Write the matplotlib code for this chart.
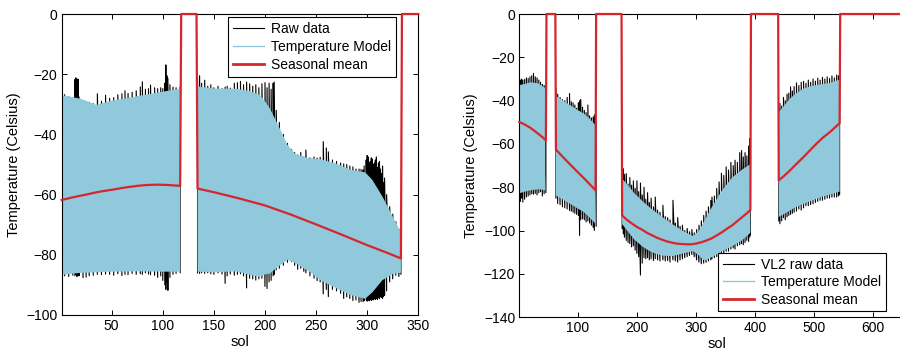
import numpy as np
import matplotlib
matplotlib.use("Agg")
import matplotlib.pyplot as plt
from matplotlib.lines import Line2D

plt.rcParams["font.family"] = ["Liberation Sans", "DejaVu Sans"]
plt.rcParams["font.size"] = 10

nan = np.nan

# ---------------- Viking Lander 1 ----------------
vl1_model_sol = [1, 10, 20, 35, 50, 75, 100, 117, nan,
                 134, 150, 171, 185, 195, 200, 205, 213, 222, 230, 243, 255,
                 269, 284, 298, 305, 315, 325, 333]
vl1_model_hi = [-27.0, -27.5, -28.2, -30.2, -28.8, -27.3, -25.8, -24.8, nan,
                -24.0, -24.8, -24.8, -25.6, -26.9, -29.0, -31.5, -37.0, -43.5,
                -46.6, -47.9, -48.3, -49.6, -51.8, -52.6, -55.1, -60.7, -67.3, -72.6]
vl1_model_lo = [-86.7, -86.3, -86.0, -85.8, -85.6, -85.5, -85.6, -85.6, nan,
                -85.6, -85.8, -85.5, -86.6, -87.3, -86.5, -86.2, -83.9, -81.7,
                -82.8, -85.5, -88.6, -91.0, -93.4, -94.6, -92.5, -88.4, -86.4, -85.9]

vl1_mean_sol = [1, 12, 25, 37, 50, 62, 75, 85, 95, 105, 117, 118, 133,
                134, 150, 175, 200, 225, 250, 275, 300, 320, 333, 334, 350]
vl1_mean = [-61.8, -60.9, -60.0, -59.1, -58.4, -57.7, -57.1, -56.8, -56.7,
            -56.8, -57.1, 0, 0,
            -58.0, -59.2, -61.3, -63.6, -66.6, -69.9, -73.3, -76.8, -79.4,
            -81.2, 0, 0]

vl1_raw_sol = [1, 4, 8, 12, 14, 15, 16, 17, 18, 22, 25, 28, 32, 36, 40, 44, 48,
               52, 56, 60, 63, 66, 70, 74, 78, 80, 83, 86, 88, 92, 95, 98, 100,
               102, 103, 104, 105, 107, 110, 113, 117, nan,
               134, 136, 138, 141, 144, 147, 150, 154, 158, 161, 163, 166, 170,
               173, 176, 179, 182, 185, 188, 191, 194, 197, 200, 202, 204, 206,
               208, 209, 211, 214, 218, 222, 226, 229, 232, 235, 238, 240, 244,
               248, 251, 254, 257, 260, 262, 266, 270, 274, 277, 280, 283, 286,
               289, 292, 294, 296, 297, 299, 300, 301, 302, 303, 304, 305, 306,
               307, 308, 309, 310, 311, 312, 313, 314, 315, 316, 317, 319, 322,
               325, 328, 331, 333]
vl1_raw_lo = [-87.5, -87.0, -87.2, -86.8, -87.0, -86.5, -87.2, -86.9, -87.0,
              -87.6, -87.4, -87.0, -86.8, -86.5, -86.6, -86.4, -86.5, -86.8,
              -86.3, -86.9, -86.5, -86.6, -86.2, -86.5, -86.3, -86.5, -86.0,
              -86.4, -86.6, -86.8, -87.5, -87.0, -88.5, -90.0, -91.5, -89.0,
              -91.8, -87.5, -86.5, -86.2, -86.0, nan,
              -86.0, -86.2, -86.0, -86.2, -86.0, -86.3, -86.5, -86.0, -86.4,
              -89.5, -87.0, -86.4, -86.8, -86.5, -86.3, -87.0, -91.0, -87.8,
              -88.0, -88.4, -88.0, -87.8, -90.5, -91.2, -89.0, -88.5, -87.0,
              -86.5, -85.0, -84.5, -83.5, -82.5, -82.3, -83.5, -84.8, -84.5,
              -85.5, -86.0, -87.0, -87.8, -88.6, -89.0, -93.0, -91.5, -93.9,
              -91.5, -92.0, -92.8, -94.5, -94.0, -94.5, -95.2, -95.0, -95.8,
              -95.5, -95.6, -95.2, -95.0, -95.4, -95.0, -95.3, -94.8, -95.2,
              -94.9, -95.0, -94.6, -94.8, -94.5, -94.8, -94.3, -94.6, -94.0,
              -94.2, -94.5, -93.8, -93.5, -92.0, -89.0, -88.0, -86.8, -87.2,
              -86.5, -86.0]
vl1_raw_hi = [-27.0, -26.8, -27.5, -27.8, -21.8, -21.2, -22.0, -21.6, -27.5,
              -28.8, -29.0, -29.3, -29.8, -26.5, -29.0, -27.0, -28.0, -27.8,
              -26.8, -26.5, -25.5, -26.4, -26.0, -25.5, -24.2, -22.5, -25.0,
              -24.8, -23.6, -24.5, -24.8, -24.5, -24.8, -23.0, -16.9, -20.5,
              -21.4, -23.5, -24.3, -24.5, -24.3, nan,
              -21.0, -20.5, -23.0, -22.0, -24.0, -23.5, -24.5, -24.0, -24.8,
              -24.3, -24.0, -24.6, -23.0, -22.8, -22.4, -23.5, -22.6, -23.2,
              -24.0, -23.5, -24.5, -23.2, -22.8, -24.5, -23.0, -25.0, -23.0,
              -22.6, -32.0, -36.0, -40.0, -43.0, -45.0, -46.0, -46.8, -46.0,
              -47.5, -45.2, -47.8, -47.5, -47.9, -47.6, -42.4, -44.5, -45.8,
              -48.5, -49.0, -49.5, -49.8, -50.0, -50.5, -50.8, -51.5, -51.5,
              -51.6, -51.8, -50.5, -48.5, -47.0, -47.5, -49.5, -49.0, -47.8,
              -48.2, -50.0, -49.5, -48.5, -47.5, -51.0, -49.5, -49.0, -51.5,
              -53.0, -50.5, -56.0, -54.5, -60.0, -64.0, -66.5, -69.0, -71.5,
              -72.0]

# ---------------- Viking Lander 2 ----------------
vl2_model_sol = [1, 10, 20, 33, 45, nan,
                 63, 75, 87, 98, 110, 120, 130, nan,
                 175, 185, 195, 210, 225, 242, 260, 277, 295, 305, 312, 318,
                 327, 344, 361, 378, 392, nan,
                 440, 450, 459, 470, 482, 493, 504, 515, 527, 543]
vl2_model_hi = [-32.8, -32.3, -31.5, -32.0, -34.3, nan,
                -37.9, -40.0, -42.1, -44.0, -45.9, -48.3, -51.3, nan,
                -76.0, -79.0, -82.5, -86.5, -90.0, -93.5, -97.0, -100.0, -102.5,
                -100.0, -96.5, -93.5, -89.0, -81.4, -75.5, -71.8, -69.3, nan,
                -45.2, -42.0, -39.0, -36.5, -34.4, -33.4, -32.8, -32.3, -31.8, -30.3]
vl2_model_lo = [-82.8, -82.0, -81.4, -80.9, -81.3, nan,
                -83.7, -85.7, -87.6, -89.5, -91.4, -94.0, -96.8, nan,
                -97.0, -100.5, -104.0, -107.5, -110.0, -111.5, -111.8, -110.6,
                -109.5, -111.5, -113.5, -113.5, -112.2, -109.5, -107.2, -104.5,
                -101.0, nan,
                -93.7, -92.2, -90.7, -89.0, -87.6, -86.4, -85.3, -84.2, -83.3, -82.0]

vl2_mean_sol = [1, 10, 19, 26, 33, 40, 46, 47, 62,
                63, 80, 97, 114, 130, 131, 174,
                175, 183, 192, 200, 209, 217, 226, 234, 243, 251, 260, 268, 277,
                285, 293, 301, 310, 318, 327, 335, 344, 352, 361, 369, 378, 385,
                392, 393, 439,
                440, 450, 459, 470, 482, 493, 504, 515, 527, 535, 543, 544, 669]
vl2_mean = [-49.8, -51.0, -52.4, -53.8, -55.3, -56.8, -58.3, 0, 0,
            -62.6, -67.5, -72.2, -76.8, -81.4, 0, 0,
            -93.0, -95.0, -96.8, -98.3, -99.6, -101.0, -102.2, -103.3, -104.2,
            -105.0, -105.6, -106.0, -106.2, -106.3, -106.3, -105.9, -105.3,
            -104.5, -103.5, -102.2, -100.7, -99.2, -97.6, -95.8, -93.8, -92.2,
            -90.5, 0, 0,
            -76.8, -74.5, -72.2, -69.2, -66.0, -62.9, -59.8, -57.0, -54.4,
            -52.4, -50.4, 0, 0]

vl2_raw_sol = [1, 3, 5, 7, 10, 13, 16, 19, 22, 25, 28, 31, 34, 37, 40, 43, 46, nan,
               63, 66, 70, 74, 78, 82, 86, 89, 92, 95, 98, 101, 103, 105, 108,
               111, 114, 117, 120, 123, 126, 128, 131, nan,
               175, 177, 179, 182, 185, 188, 191, 194, 197, 200, 203, 206, 209,
               212, 215, 218, 221, 224, 228, 231, 235, 239, 244, 248, 252, 256,
               261, 265, 269, 273, 277, 281, 285, 289, 293, 297, 301, 305, 309,
               313, 317, 321, 325, 327, 331, 335, 339, 343, 347, 351, 355, 359,
               363, 366, 370, 374, 377, 380, 383, 386, 389, 391, 392, nan,
               440, 442, 445, 448, 451, 454, 457, 460, 463, 466, 470, 474, 478,
               482, 486, 490, 494, 498, 502, 506, 510, 514, 518, 522, 526, 530,
               534, 538, 541, 543]
vl2_raw_lo = [-84.0, -86.5, -85.0, -86.8, -85.5, -84.5, -84.0, -83.5, -83.0,
              -83.2, -82.8, -83.5, -82.5, -82.0, -84.0, -83.0, -82.5, nan,
              -85.0, -87.5, -88.0, -89.0, -89.5, -90.0, -90.7, -91.0, -91.5,
              -92.0, -92.5, -93.0, -102.2, -95.0, -94.5, -95.0, -96.0, -95.5,
              -96.5, -97.5, -98.5, -99.9, -98.0, nan,
              -99.0, -101.5, -103.0, -104.5, -105.5, -106.0, -107.5, -107.0,
              -109.0, -110.5, -112.0, -120.5, -115.0, -112.5, -113.0, -112.5,
              -113.5, -113.0, -113.8, -113.0, -113.5, -114.0, -113.5, -114.0,
              -113.8, -114.5, -113.5, -114.0, -114.5, -113.5, -113.0, -112.5,
              -112.0, -111.5, -111.0, -112.0, -113.5, -114.5, -115.3, -115.0,
              -114.6, -114.0, -113.5, -113.0, -112.5, -112.0, -111.5, -111.0,
              -110.5, -109.5, -109.5, -108.5, -108.0, -108.5, -107.0, -106.5,
              -106.0, -106.5, -105.5, -104.5, -105.0, -103.0, -102.0, nan,
              -95.5, -96.8, -95.5, -94.0, -95.0, -93.7, -93.0, -92.5, -92.0,
              -91.5, -91.0, -90.0, -90.5, -89.5, -88.5, -88.5, -88.0, -87.6,
              -87.0, -86.5, -86.0, -86.0, -85.5, -85.0, -85.0, -84.5, -84.5,
              -84.5, -84.0, -83.5]
vl2_raw_hi = [-31.0, -30.5, -30.0, -30.5, -30.2, -29.5, -29.8, -29.0, -28.5,
              -27.4, -29.0, -29.5, -30.5, -31.5, -32.5, -33.0, -34.0, nan,
              -34.4, -37.0, -38.5, -39.5, -40.0, -38.5, -36.7, -40.5, -41.0,
              -42.0, -43.5, -41.0, -40.0, -39.4, -43.0, -44.5, -45.5, -42.0,
              -47.0, -48.0, -47.5, -46.5, -50.0, nan,
              -72.0, -71.4, -74.0, -73.7, -78.5, -75.5, -79.0, -77.0, -80.5,
              -77.0, -82.0, -78.0, -83.5, -80.0, -85.5, -82.5, -87.0, -85.0,
              -89.0, -84.5, -90.5, -91.5, -88.3, -93.5, -94.0, -95.0, -86.0,
              -96.5, -94.0, -98.0, -97.5, -100.0, -99.0, -100.5, -99.5, -101.0,
              -99.5, -97.5, -95.5, -93.0, -91.0, -89.0, -86.0, -84.5, -84.0,
              -80.5, -77.5, -73.5, -74.5, -70.6, -72.0, -68.5, -70.0, -67.5,
              -68.5, -64.0, -63.0, -66.0, -64.0, -65.5, -61.0, -57.5, -67.0, nan,
              -44.0, -41.3, -42.5, -38.5, -40.0, -37.0, -36.5, -33.6, -35.5,
              -33.5, -31.8, -33.0, -31.5, -31.1, -32.0, -30.5, -31.5, -30.0,
              -31.0, -29.6, -30.5, -29.2, -30.0, -29.0, -29.8, -28.6, -29.5,
              -28.2, -28.5, -29.0]

MODEL_C = "#8fc9db"
MEAN_C = "#d6262d"


def daily_trace(sol, lo, hi):
    """Each sol's record swings from its minimum up to its maximum."""
    xs, ys = [], []
    for s, a, b in zip(sol, lo, hi):
        xs += [s, s]
        ys += [a, b]
    return np.array(xs, float), np.array(ys, float)


def draw_panel(ax, raw, model, mean, raw_label):
    rx, ry = daily_trace(*raw)
    ax.plot(rx, ry, color="black", lw=0.8, zorder=1)
    ms, mlo, mhi = (np.array(v, float) for v in model)
    ax.fill_between(ms, mlo, mhi, color=MODEL_C, lw=0, zorder=2)
    ax.plot(mean[0], mean[1], color=MEAN_C, lw=1.6, zorder=4, clip_on=False)
    handles = [Line2D([], [], color="black", lw=0.8),
               Line2D([], [], color=MODEL_C, lw=1.0),
               Line2D([], [], color=MEAN_C, lw=2.0)]
    labels = [raw_label, "Temperature Model", "Seasonal mean"]
    return handles, labels


def style_axes(ax):
    for sp in ax.spines.values():
        sp.set_linewidth(0.8)
    ax.tick_params(direction="in", length=3.5, width=0.7, top=True, right=True,
                   labelsize=10, pad=3)
    ax.set_xlabel("sol", fontsize=10.5, labelpad=1)
    ax.set_ylabel("Temperature (Celsius)", fontsize=10.5, labelpad=4)


fig = plt.figure(figsize=(9.0, 3.55), dpi=100)

ax1 = fig.add_axes([61.6 / 900, 1 - 315 / 355, 356.7 / 900, 301 / 355])
h, l = draw_panel(ax1, (vl1_raw_sol, vl1_raw_lo, vl1_raw_hi),
                  (vl1_model_sol, vl1_model_lo, vl1_model_hi),
                  (vl1_mean_sol, vl1_mean), "Raw data")
ax1.set_xlim(1, 350)
ax1.set_ylim(-100, 0)
ax1.set_xticks([50, 100, 150, 200, 250, 300, 350])
ax1.set_yticks([0, -20, -40, -60, -80, -100])
style_axes(ax1)
leg1 = ax1.legend(h, l, loc="upper left", bbox_to_anchor=(228.3 / 900, 1 - 16.7 / 355),
                  bbox_transform=fig.transFigure, borderaxespad=0, fancybox=False,
                  framealpha=1, edgecolor="black", handlelength=2.2, handletextpad=0.5,
                  labelspacing=0.3, borderpad=0.35, fontsize=10)
leg1.get_frame().set_linewidth(0.8)
leg1.set_zorder(5)

ax2 = fig.add_axes([519.3 / 900, 1 - 317.3 / 355, 0.591 * 668 / 900, 303.3 / 355])
h, l = draw_panel(ax2, (vl2_raw_sol, vl2_raw_lo, vl2_raw_hi),
                  (vl2_model_sol, vl2_model_lo, vl2_model_hi),
                  (vl2_mean_sol, vl2_mean), "VL2 raw data")
ax2.set_xlim(1, 669)
ax2.set_ylim(-140, 0)
ax2.set_xticks([100, 200, 300, 400, 500, 600])
ax2.set_yticks([0, -20, -40, -60, -80, -100, -120, -140])
style_axes(ax2)
leg2 = ax2.legend(h, l, loc="upper left", bbox_to_anchor=(718.3 / 900, 1 - 252.7 / 355),
                  bbox_transform=fig.transFigure, borderaxespad=0, fancybox=False,
                  framealpha=1, edgecolor="black", handlelength=2.2, handletextpad=0.5,
                  labelspacing=0.25, borderpad=0.35, fontsize=10)
leg2.get_frame().set_linewidth(0.8)
leg2.set_zorder(5)

fig.savefig("out.png", dpi=100)
